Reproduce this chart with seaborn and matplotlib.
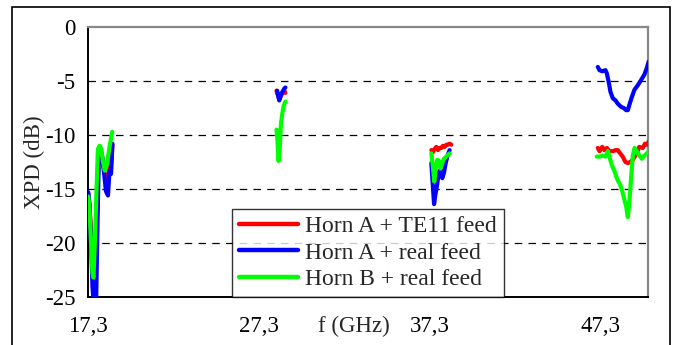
import numpy as np
import pandas as pd
import matplotlib
matplotlib.use("Agg")
import matplotlib.pyplot as plt
import seaborn as sns
from matplotlib.patches import Rectangle
from matplotlib.transforms import blended_transform_factory

# ---------------- data ----------------
series_names = ["Horn A + TE11 feed", "Horn A + real feed", "Horn B + real feed"]
series_colors = ["#ff0000", "#0000ff", "#00ff00"]
x_ticks = [17.3, 27.3, 37.3, 47.3]
x_tick_labels = ["17,3", "27,3", "37,3", "47,3"]
y_ticks = [0, -5, -10, -15, -20, -25]
y_tick_labels = ["0", "-5", "-10", "-15", "-20", "-25"]

# band 1 (~17.3-18.7 GHz)
f_red_b1 = [17.32, 17.39, 17.48, 17.56, 17.65, 17.75, 17.86, 17.94, 18.03, 18.12, 18.24, 18.35, 18.47, 18.56, 18.65, 18.73]
y_red_b1 = [-15.5, -16.5, -19.0, -21.5, -22.5, -21.0, -15.0, -11.5, -11.3, -11.9, -13.2, -14.2, -14.5, -13.0, -12.8, -10.9]
f_blue_b1 = [17.32, 17.39, 17.48, 17.56, 17.65, 17.77, 17.86, 17.94, 18.03, 18.12, 18.24, 18.35, 18.47, 18.56, 18.65, 18.73]
y_blue_b1 = [-15.3, -16.5, -20.0, -24.0, -26.0, -26.0, -18.0, -11.6, -11.4, -12.0, -13.5, -15.2, -15.6, -13.3, -13.6, -10.8]
f_green_b1 = [17.32, 17.39, 17.48, 17.56, 17.62, 17.70, 17.80, 17.88, 17.98, 18.08, 18.18, 18.28, 18.40, 18.55, 18.72]
y_green_b1 = [-15.7, -17.0, -20.0, -22.8, -23.2, -20.0, -15.0, -11.3, -11.0, -11.3, -12.5, -13.3, -12.8, -11.2, -9.7]

# band 2 (~28.3-28.9 GHz)
f_red_b2 = [28.34, 28.42, 28.50, 28.58, 28.66, 28.74, 28.80, 28.86]
y_red_b2 = [-5.9, -6.3, -6.6, -6.4, -6.2, -6.0, -5.9, -6.1]
f_blue_b2 = [28.38, 28.44, 28.50, 28.57, 28.65, 28.73, 28.80, 28.86]
y_blue_b2 = [-5.9, -6.4, -6.8, -6.5, -6.1, -5.9, -5.7, -5.6]
f_green_b2 = [28.34, 28.40, 28.46, 28.52, 28.60, 28.68, 28.76, 28.86]
y_green_b2 = [-9.5, -10.5, -12.4, -11.5, -9.0, -8.0, -7.3, -6.9]

# band 3 (~37.4-38.6 GHz)
f_red_b3 = [37.41, 37.50, 37.60, 37.70, 37.80, 37.90, 38.00, 38.09, 38.19, 38.29, 38.38, 38.48, 38.58]
y_red_b3 = [-11.4, -11.6, -11.3, -11.1, -11.4, -11.2, -11.2, -11.0, -11.1, -10.9, -10.9, -10.8, -10.9]
f_blue_b3 = [37.41, 37.50, 37.57, 37.65, 37.75, 37.85, 37.95, 38.05, 38.15, 38.25, 38.38, 38.48]
y_blue_b3 = [-12.6, -14.8, -16.4, -15.5, -14.6, -13.4, -13.2, -14.0, -13.5, -12.6, -11.8, -11.4]
f_green_b3 = [37.41, 37.50, 37.58, 37.66, 37.76, 37.86, 37.95, 38.05, 38.15, 38.28, 38.40, 38.48]
y_green_b3 = [-11.7, -12.9, -14.3, -13.2, -12.3, -12.4, -13.1, -12.6, -12.2, -12.0, -11.8, -11.7]

# band 4 (~47.2-50.1 GHz)
f_red_b4 = [47.16, 47.26, 47.42, 47.55, 47.69, 47.84, 48.04, 48.20, 48.33, 48.47, 48.62, 48.78, 48.92, 49.06, 49.21, 49.44, 49.59, 49.79, 49.92, 50.05, 50.14]
y_red_b4 = [-11.2, -11.5, -11.1, -11.4, -11.2, -11.5, -11.5, -11.4, -11.4, -11.7, -12.0, -12.5, -12.6, -12.5, -12.3, -11.7, -11.1, -11.2, -10.8, -10.9, -10.6]
f_blue_b4 = [47.16, 47.26, 47.42, 47.61, 47.69, 47.80, 47.90, 48.04, 48.20, 48.33, 48.53, 48.68, 48.82, 48.92, 49.01, 49.15, 49.31, 49.50, 49.70, 49.89, 50.03, 50.14]
y_blue_b4 = [-3.7, -4.0, -4.1, -4.0, -4.3, -5.1, -6.0, -6.6, -6.8, -7.1, -7.4, -7.5, -7.7, -7.7, -7.2, -6.5, -5.8, -5.4, -4.9, -4.4, -3.8, -3.2]
f_green_b4 = [47.10, 47.26, 47.46, 47.61, 47.75, 47.89, 48.01, 48.15, 48.25, 48.33, 48.47, 48.59, 48.72, 48.82, 48.92, 49.01, 49.11, 49.21, 49.31, 49.44, 49.59, 49.74, 49.89, 50.03, 50.14]
y_green_b4 = [-12.0, -12.0, -11.9, -12.0, -11.5, -12.3, -12.9, -13.4, -13.9, -14.2, -14.6, -15.2, -16.0, -16.6, -17.6, -16.2, -14.0, -11.9, -11.2, -11.5, -11.9, -12.2, -11.9, -11.7, -11.5]

# ---------------- build table ----------------
rows = []
def add(fs, ys, name, band):
    for f, y in zip(fs, ys):
        rows.append({"f": f, "xpd": y, "series": name, "band": band})

add(f_red_b1, y_red_b1, series_names[0], 1)
add(f_red_b2, y_red_b2, series_names[0], 2)
add(f_red_b3, y_red_b3, series_names[0], 3)
add(f_red_b4, y_red_b4, series_names[0], 4)
add(f_blue_b1, y_blue_b1, series_names[1], 1)
add(f_blue_b2, y_blue_b2, series_names[1], 2)
add(f_blue_b3, y_blue_b3, series_names[1], 3)
add(f_blue_b4, y_blue_b4, series_names[1], 4)
add(f_green_b1, y_green_b1, series_names[2], 1)
add(f_green_b2, y_green_b2, series_names[2], 2)
add(f_green_b3, y_green_b3, series_names[2], 3)
add(f_green_b4, y_green_b4, series_names[2], 4)
df = pd.DataFrame(rows)

# ---------------- plot ----------------
sns.set_style("white")
plt.rcParams["font.family"] = ["Liberation Serif", "DejaVu Serif"]
plt.rcParams["axes.unicode_minus"] = False

W, H = 680, 345
fig = plt.figure(figsize=(W / 100, H / 100), dpi=100)
L, R, T, B = 88, 648, 27, 297
ax = fig.add_axes([L / W, 1 - B / H, (R - L) / W, (B - T) / H])

sns.lineplot(data=df, x="f", y="xpd", hue="series", units="band", estimator=None,
             palette=series_colors, hue_order=series_names, linewidth=3.0,
             sort=False, ax=ax, zorder=3)

ax.set_xlim(17.3, 50.1)
ax.set_ylim(-25, 0)
ax.set_xticks(x_ticks)
ax.set_xticklabels(x_tick_labels)
ax.set_yticks(y_ticks)
ax.set_yticklabels(y_tick_labels)
ax.tick_params(axis="both", labelsize=16.5, colors="black", length=5, width=1, direction="out", pad=4)
ax.tick_params(axis="x", pad=9)
ax.set_xlabel("")
ax.set_ylabel("XPD (dB)", fontsize=16.5, labelpad=0)

for yv in [-5, -10, -15, -20]:
    ax.axhline(yv, color="black", lw=0.9, ls=(0, (6, 5)), zorder=1)

for s in ["left", "bottom"]:
    ax.spines[s].set_color("black")
    ax.spines[s].set_linewidth(1.4)
for s in ["top", "right"]:
    ax.spines[s].set_color("#888888")
    ax.spines[s].set_linewidth(1.6)

ax.text(32.9, -0.11, "f (GHz)", transform=blended_transform_factory(ax.transData, ax.transAxes),
        ha="center", va="center", fontsize=16.5)

handles, labels = ax.get_legend_handles_labels()
if ax.get_legend() is not None:
    ax.get_legend().remove()
leg = ax.legend(handles, labels, loc="lower left", bbox_to_anchor=((232 - L) / (R - L), 0.0),
                borderaxespad=0, frameon=True, fancybox=False, edgecolor="black",
                fontsize=17, handlelength=2.5, handletextpad=0.3, labelspacing=0.2,
                borderpad=0.3)
leg.get_frame().set_linewidth(1.0)
for h in leg.get_lines():
    h.set_linewidth(3.2)

fig.patches.append(Rectangle((12 / W, -0.05), (670 - 12) / W, 1 - 7 / H + 0.05,
                             transform=fig.transFigure, fill=False, edgecolor="black", lw=1.2))

fig.savefig("out.png", dpi=100)
